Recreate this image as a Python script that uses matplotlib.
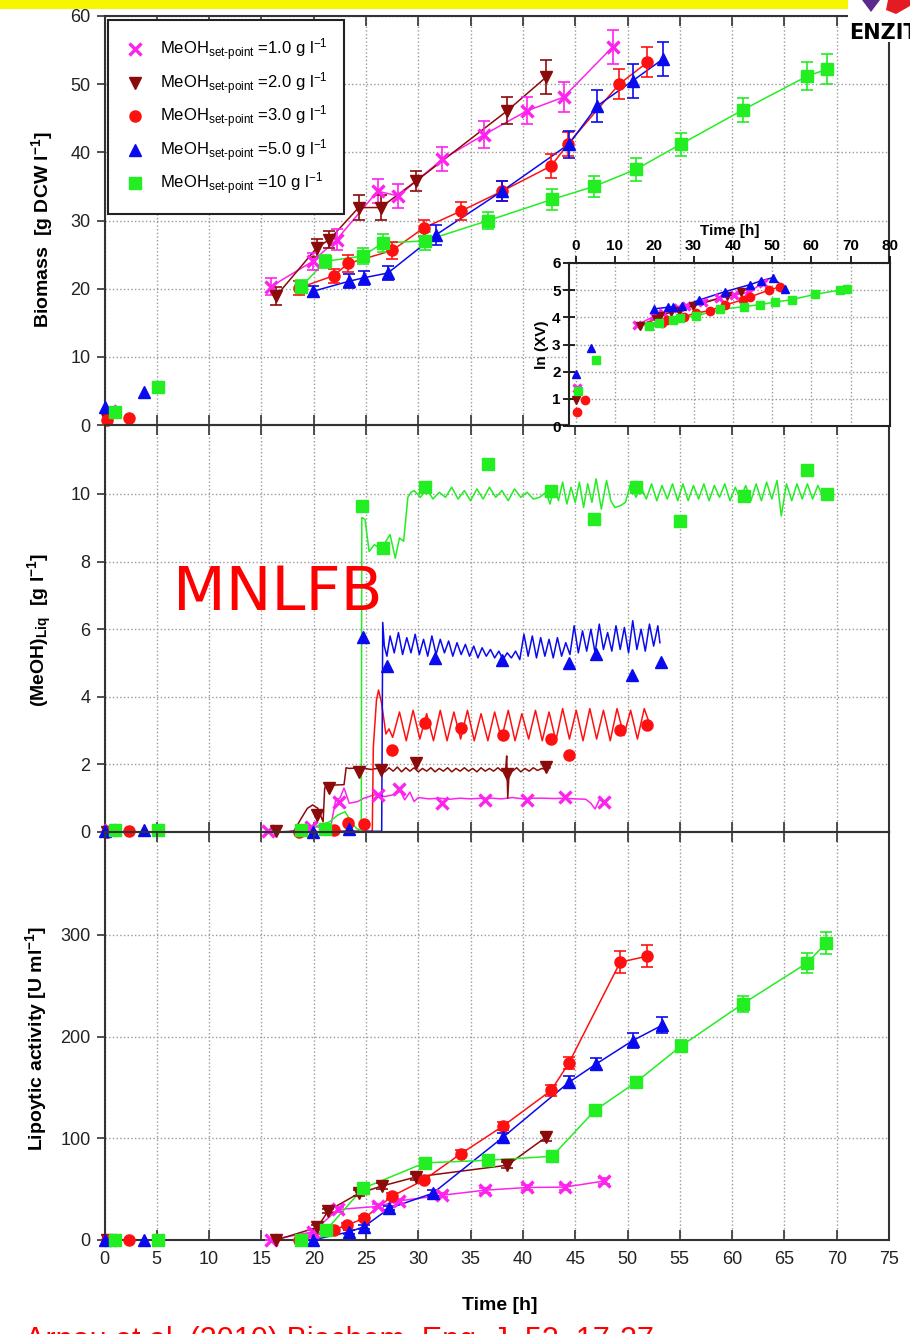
import numpy as np
import matplotlib
matplotlib.use("Agg")
import matplotlib.pyplot as plt
from matplotlib.lines import Line2D
from matplotlib.patches import Rectangle, Polygon

plt.rcParams["font.family"] = ["Liberation Sans", "DejaVu Sans"]
plt.rcParams["mathtext.fontset"] = "custom"
plt.rcParams["mathtext.rm"] = "Liberation Sans"
plt.rcParams["mathtext.it"] = "Liberation Sans:italic"
plt.rcParams["mathtext.bf"] = "Liberation Sans:bold"

W_PX, H_PX = 910, 1334

# series: MeOH set-point 1.0, 2.0, 3.0, 5.0, 10 g/l
setpoints = ["1.0", "2.0", "3.0", "5.0", "10"]
colors = ["#ff22ee", "#8b0a0a", "#ff1010", "#0a0aee", "#22ee22"]
markers = ["x", "v", "o", "^", "s"]

# ---- biomass [g DCW/l]
bio_t_1 = [0.5, 15.9, 19.9, 22.2, 26.1, 28.1, 32.3, 36.3, 40.4, 43.9, 48.6]
bio_y_1 = [2.1, 20.3, 24.0, 27.2, 34.3, 33.6, 39.0, 42.6, 46.1, 48.1, 55.5]
bio_e_1 = [0, 1.2, 1.2, 1.5, 1.8, 1.8, 1.8, 2.0, 2.0, 2.2, 2.5]
bio_t_2 = [0.2, 16.4, 20.3, 21.5, 24.3, 26.4, 29.8, 38.5, 42.2]
bio_y_2 = [0.9, 18.9, 26.0, 27.2, 31.9, 31.9, 35.8, 46.1, 51.0]
bio_e_2 = [0, 1.3, 1.3, 1.3, 1.8, 1.8, 1.5, 2.0, 2.5]
bio_t_3 = [0.2, 2.3, 18.6, 21.9, 23.3, 27.5, 30.5, 34.1, 38.0, 42.7, 44.3, 49.2, 51.9]
bio_y_3 = [0.75, 1.1, 20.1, 21.9, 23.7, 25.6, 28.9, 31.4, 34.3, 38.0, 41.2, 50.0, 53.2]
bio_e_3 = [0, 0, 1.0, 1.0, 1.2, 1.2, 1.2, 1.3, 1.5, 1.8, 1.8, 2.2, 2.2]
bio_t_4 = [0.0, 3.8, 19.9, 23.4, 24.8, 27.1, 31.7, 38.0, 44.4, 47.1, 50.5, 53.4]
bio_y_4 = [2.7, 4.9, 19.6, 21.1, 21.6, 22.3, 27.9, 34.3, 41.2, 46.8, 50.5, 53.7]
bio_e_4 = [0, 0, 0.8, 1.0, 1.0, 1.0, 1.5, 1.5, 2.0, 2.3, 2.5, 2.5]
bio_t_5 = [1.0, 5.1, 18.8, 21.1, 24.7, 26.6, 30.6, 36.7, 42.8, 46.8, 50.8, 55.1, 61.0, 67.2, 69.1]
bio_y_5 = [1.9, 5.6, 20.3, 24.0, 24.8, 26.7, 27.0, 30.0, 33.1, 35.0, 37.5, 41.2, 46.2, 51.2, 52.2]
bio_e_5 = [0, 0, 1.0, 1.0, 1.2, 1.3, 1.3, 1.3, 1.5, 1.5, 1.7, 1.7, 1.8, 2.0, 2.2]

# ---- ln(XV) inset
ln_t_1 = [0.3, 15.7, 20.0, 22.3, 26.1, 28.2, 32.3, 36.4, 40.4, 44.0, 47.8]
ln_y_1 = [1.4, 3.73, 4.04, 4.15, 4.35, 4.4, 4.55, 4.7, 4.82, 4.92, 5.28]
ln_t_2 = [0.2, 16.4, 20.4, 21.5, 24.3, 26.4, 29.8, 38.5, 42.2]
ln_y_2 = [0.96, 3.68, 3.95, 4.05, 4.2, 4.25, 4.42, 4.78, 4.92]
ln_t_3 = [0.3, 2.4, 18.6, 21.9, 23.3, 27.5, 30.5, 34.1, 38.0, 42.7, 44.3, 49.2, 51.9]
ln_y_3 = [0.5, 0.96, 3.7, 3.8, 3.9, 4.02, 4.15, 4.25, 4.45, 4.65, 4.75, 5.0, 5.12]
ln_t_4 = [0.0, 4.0, 19.9, 23.4, 24.8, 27.1, 31.5, 38.1, 44.3, 47.1, 50.2, 53.3]
ln_y_4 = [1.9, 2.86, 4.31, 4.37, 4.38, 4.4, 4.64, 4.95, 5.2, 5.34, 5.46, 5.06]
ln_t_5 = [0.5, 5.2, 18.7, 21.1, 24.7, 26.6, 30.6, 36.7, 42.8, 46.9, 50.7, 55.0, 61.0, 67.2, 69.0]
ln_y_5 = [1.3, 2.43, 3.68, 3.8, 3.92, 3.98, 4.05, 4.29, 4.39, 4.47, 4.56, 4.65, 4.85, 5.0, 5.03]

# ---- MeOH in liquid [g/l], off-line samples
me_t_1 = [0.5, 15.6, 19.7, 22.4, 26.1, 28.2, 32.3, 36.4, 40.4, 44.0, 47.8]
me_y_1 = [0.05, 0.04, 0.16, 0.9, 1.09, 1.26, 0.87, 0.95, 0.95, 1.05, 0.9]
me_t_2 = [0.2, 16.4, 20.35, 21.5, 24.3, 26.4, 29.8, 38.5, 42.2]
me_y_2 = [0.0, 0.04, 0.5, 1.29, 1.78, 1.83, 2.03, 1.73, 1.93]
me_t_3 = [0.2, 2.3, 18.6, 21.9, 23.3, 24.8, 27.5, 30.6, 34.1, 38.1, 42.7, 44.4, 49.3, 51.9]
me_y_3 = [0.0, 0.02, 0.0, 0.05, 0.26, 0.24, 2.43, 3.23, 3.09, 2.87, 2.74, 2.28, 3.03, 3.17]
me_t_4 = [0.0, 3.8, 19.9, 23.4, 24.7, 27.05, 31.6, 38.0, 44.4, 47.0, 50.4, 53.2]
me_y_4 = [0.02, 0.05, 0.0, 0.1, 5.78, 4.91, 5.16, 5.10, 5.0, 5.28, 4.64, 5.03]
me_t_5 = [1.0, 5.1, 18.8, 21.1, 24.65, 26.6, 30.6, 36.7, 42.7, 46.8, 50.8, 55.0, 61.1, 67.2, 69.1]
me_y_5 = [0.05, 0.05, 0.05, 0.1, 9.65, 8.39, 10.2, 10.9, 10.1, 9.26, 10.2, 9.2, 9.94, 10.7, 10.0]

# ---- MeOH on-line signal (t, g/l)
sig_1 = [(15.6, 0.0), (17.5, 0.0), (19.7, 0.15), (21.0, 0.15), (21.6, 0.1), (22.1, 0.95),
         (22.5, 1.0), (22.9, 1.3), (23.4, 0.85), (24.2, 0.9), (24.8, 1.0), (25.8, 1.1),
         (26.8, 1.05), (27.6, 1.1), (28.3, 1.2), (28.7, 0.95), (29.2, 1.18), (29.6, 0.9),
         (30.0, 1.02), (31.0, 0.98), (32.0, 1.0), (33.0, 0.97), (34.0, 1.0), (35.0, 0.98),
         (36.0, 1.0), (37.0, 1.0), (38.0, 0.98), (39.0, 1.02), (40.0, 0.98), (41.0, 1.0),
         (42.0, 1.0), (43.0, 0.99), (44.0, 1.0), (45.0, 0.98), (46.0, 0.97), (46.5, 0.85),
         (46.9, 0.68), (47.3, 0.95), (47.8, 0.9)]
sig_2 = [(16.4, 0.0), (18.1, 0.02), (18.8, 0.4), (19.4, 0.7), (19.9, 0.8), (20.4, 0.7),
         (20.9, 0.3), (21.05, 1.3), (21.2, 1.38), (22.9, 1.4), (23.1, 1.9), (23.4, 1.88),
         (24.5, 1.9), (25.5, 1.85), (26.4, 1.9), (26.8, 1.78), (27.2, 1.9), (27.6, 1.8),
         (28.0, 1.92), (28.4, 1.78), (28.8, 1.9), (29.2, 1.8), (29.6, 1.9), (30.0, 1.78),
         (30.4, 1.88), (30.8, 1.8), (31.2, 1.9), (31.6, 1.78), (32.0, 1.88), (32.4, 1.8),
         (32.8, 1.9), (33.2, 1.78), (33.6, 1.88), (34.0, 1.8), (34.4, 1.9), (34.8, 1.8),
         (35.2, 1.88), (35.6, 1.78), (36.0, 1.9), (36.4, 1.8), (36.8, 1.88), (37.2, 1.8),
         (37.6, 1.9), (38.0, 1.8), (38.35, 1.85), (38.45, 2.25), (38.55, 1.0), (38.7, 1.85),
         (39.0, 1.8), (39.4, 1.9), (39.8, 1.78), (40.2, 1.88), (40.6, 1.8), (41.0, 1.9),
         (41.4, 1.82), (41.8, 1.88), (42.2, 1.85), (42.6, 1.9)]
sig_3 = [(21.9, 0.02), (23.3, 0.02), (24.8, 0.02), (25.6, 0.02), (25.7, 2.5), (26.0, 3.9),
         (26.2, 4.2), (26.5, 3.8), (26.9, 2.9), (27.2, 3.05), (27.55, 2.8), (28.2, 3.55),
         (28.85, 2.7), (29.5, 3.6), (30.15, 2.75), (30.8, 3.5), (31.45, 2.7), (32.1, 3.6),
         (32.75, 2.7), (33.4, 3.55), (34.05, 2.75), (34.7, 3.6), (35.35, 2.7), (36.0, 3.5),
         (36.65, 2.7), (37.3, 3.55), (37.95, 2.75), (38.6, 3.6), (39.25, 2.7), (39.9, 3.5),
         (40.55, 2.75), (41.2, 3.6), (41.85, 2.7), (42.5, 3.55), (43.15, 2.7), (43.8, 3.65),
         (44.45, 2.75), (45.1, 3.6), (45.75, 2.7), (46.4, 3.65), (47.05, 2.75), (47.7, 3.6),
         (48.35, 2.7), (49.0, 3.65), (49.65, 2.85), (50.3, 3.6), (50.95, 2.75), (51.6, 3.65),
         (52.0, 3.3)]
sig_4 = [(19.9, 0.0), (23.4, 0.02), (24.8, 0.02), (26.5, 0.02), (26.6, 6.2), (26.75, 5.5),
         (27.0, 5.2), (27.3, 5.8), (27.7, 5.3), (28.1, 5.9), (28.5, 5.25), (28.9, 5.75),
         (29.3, 5.3), (29.7, 5.85), (30.1, 5.25), (30.5, 5.7), (30.9, 5.2), (31.3, 5.8),
         (31.7, 5.25), (32.1, 5.7), (32.5, 5.3), (32.9, 5.65), (33.3, 5.2), (33.7, 5.6),
         (34.1, 5.25), (34.5, 5.55), (34.9, 5.2), (35.3, 5.5), (35.7, 5.15), (36.1, 5.45),
         (36.5, 5.2), (36.9, 5.4), (37.3, 5.15), (37.7, 5.35), (38.1, 5.1), (38.5, 5.3),
         (38.9, 5.15), (39.3, 5.35), (39.7, 5.1), (40.1, 5.85), (40.5, 5.2), (40.9, 5.8),
         (41.3, 5.15), (41.7, 5.75), (42.1, 5.2), (42.5, 5.7), (42.9, 5.15), (43.3, 5.75),
         (43.7, 5.2), (44.1, 5.6), (44.5, 5.25), (44.9, 6.1), (45.3, 5.3), (45.7, 5.95),
         (46.1, 5.35), (46.5, 6.0), (46.9, 5.3), (47.3, 6.15), (47.7, 5.4), (48.1, 5.9),
         (48.5, 5.35), (48.9, 6.1), (49.3, 5.4), (49.7, 6.05), (50.1, 5.3), (50.5, 6.25),
         (50.9, 5.4), (51.3, 6.0), (51.7, 5.35), (52.1, 6.15), (52.5, 5.5), (52.9, 6.1),
         (53.1, 5.6)]
sig_5 = [(18.5, 0.05), (19.5, 0.1), (20.5, 0.2), (21.5, 0.3), (22.3, 0.5), (23.0, 0.6),
         (23.6, 0.3), (24.1, 0.1), (24.55, 0.05), (24.6, 9.3), (24.9, 9.25), (25.3, 8.3),
         (25.8, 8.5), (26.3, 8.4), (26.8, 8.55), (27.3, 8.8), (27.8, 8.1), (28.2, 8.7),
         (28.6, 8.6), (29.0, 9.9), (29.3, 10.05), (29.6, 10.1), (30.2, 9.9), (30.8, 10.15),
         (31.4, 9.85), (32.0, 10.05), (32.6, 9.9), (33.2, 10.2), (33.8, 9.85), (34.4, 10.1),
         (35.0, 9.8), (35.6, 10.15), (36.2, 9.85), (36.8, 10.2), (37.4, 9.9), (38.0, 10.1),
         (38.6, 9.8), (39.2, 10.15), (39.8, 9.9), (40.4, 10.05), (41.0, 9.85), (41.6, 9.9),
         (42.2, 10.05), (42.6, 9.7), (43.0, 10.25), (43.4, 9.8), (43.8, 10.35), (44.2, 9.7),
         (44.6, 10.2), (45.0, 9.75), (45.4, 10.35), (45.8, 9.6), (46.2, 10.3), (46.6, 9.75),
         (47.0, 10.45), (47.5, 9.55), (48.0, 10.4), (48.4, 9.8), (48.8, 9.6), (49.3, 9.65),
         (49.8, 9.75), (50.3, 10.3), (50.8, 9.9), (51.3, 10.2), (51.8, 9.85), (52.3, 10.3),
         (52.8, 9.8), (53.3, 10.25), (53.8, 9.85), (54.3, 10.3), (54.8, 9.8), (55.3, 10.3),
         (55.8, 9.8), (56.3, 10.25), (56.8, 9.85), (57.3, 10.3), (57.8, 9.8), (58.3, 10.25),
         (58.8, 9.9), (59.3, 10.3), (59.8, 9.8), (60.3, 10.2), (60.8, 9.85), (61.3, 10.25),
         (61.8, 9.8), (62.3, 10.3), (62.8, 9.8), (63.3, 10.35), (63.8, 9.85), (64.3, 10.4),
         (64.7, 9.35), (65.2, 10.3), (65.7, 9.8), (66.2, 10.3), (66.7, 9.85), (67.2, 10.3),
         (67.7, 9.85), (68.2, 10.25), (68.7, 9.9), (69.3, 10.1)]

# ---- lipolytic activity [U/ml]
lip_t_1 = [0.5, 15.9, 19.9, 22.3, 26.1, 28.2, 32.3, 36.4, 40.4, 44.0, 47.8]
lip_y_1 = [0, 0, 8, 30, 33, 38.5, 44, 49, 51.6, 52, 58]
lip_e_1 = [0, 0, 2, 2, 2, 2, 2, 2.5, 2.5, 2.5, 3]
lip_t_2 = [0.2, 16.4, 20.35, 21.4, 24.3, 26.5, 29.8, 38.5, 42.2]
lip_y_2 = [0, 0, 12.4, 28.8, 45.8, 53, 62, 73.5, 101]
lip_e_2 = [0, 0, 2, 2, 3, 3, 3, 3, 4]
lip_t_3 = [0.2, 2.3, 18.6, 21.9, 23.2, 24.8, 27.5, 30.5, 34.1, 38.1, 42.7, 44.4, 49.3, 51.9]
lip_y_3 = [0, 0, 0, 9.8, 14.7, 21.2, 43.1, 58.8, 85, 112, 147, 174, 273, 279]
lip_e_3 = [0, 0, 0, 2, 2, 2, 3, 3, 3, 4, 5, 6, 11, 11]
lip_t_4 = [0.0, 3.8, 19.9, 23.4, 24.8, 27.2, 31.4, 38.1, 44.4, 47.0, 50.5, 53.3]
lip_y_4 = [0, 0, 0, 8, 13, 31, 46, 101, 155, 173, 196, 211]
lip_e_4 = [0, 0, 0, 2, 2, 2, 3, 4, 6, 6, 7, 8]
lip_t_5 = [1.0, 5.1, 18.8, 21.2, 24.7, 30.6, 36.7, 42.8, 46.9, 50.8, 55.1, 61.0, 67.2, 69.0]
lip_y_5 = [0, 0, 0, 9.8, 50.7, 75.8, 78.4, 82.3, 127.5, 155, 190.5, 232, 272.5, 292]
lip_e_5 = [0, 0, 0, 2, 3, 3, 3, 3, 4, 4, 6, 8, 10, 11]

bio = [(bio_t_1, bio_y_1, bio_e_1), (bio_t_2, bio_y_2, bio_e_2), (bio_t_3, bio_y_3, bio_e_3),
       (bio_t_4, bio_y_4, bio_e_4), (bio_t_5, bio_y_5, bio_e_5)]
lnxv = [(ln_t_1, ln_y_1), (ln_t_2, ln_y_2), (ln_t_3, ln_y_3), (ln_t_4, ln_y_4), (ln_t_5, ln_y_5)]
meoh = [(me_t_1, me_y_1), (me_t_2, me_y_2), (me_t_3, me_y_3), (me_t_4, me_y_4), (me_t_5, me_y_5)]
sigs = [sig_1, sig_2, sig_3, sig_4, sig_5]
lip = [(lip_t_1, lip_y_1, lip_e_1), (lip_t_2, lip_y_2, lip_e_2), (lip_t_3, lip_y_3, lip_e_3),
       (lip_t_4, lip_y_4, lip_e_4), (lip_t_5, lip_y_5, lip_e_5)]


def fx(px):
    return px / W_PX


def fy(py):
    return 1 - py / H_PX


def mew_of(m):
    return 2.4 if m == "x" else 1.0


def draw_points(ax, t, y, err, color, marker, ms=8, line=True):
    t = np.asarray(t, float)
    y = np.asarray(y, float)
    late = t >= 15
    if line:
        ax.plot(t[late], y[late], color=color, lw=1.1, zorder=3, clip_on=False)
    if err is not None:
        ax.errorbar(t[late], y[late], yerr=np.asarray(err, float)[late], fmt="none",
                    ecolor=color, elinewidth=1.2, capsize=4, capthick=1.2, zorder=4)
    ax.plot(t, y, ls="none", marker=marker, color=color, ms=ms, mew=mew_of(marker),
            clip_on=False, zorder=5)


def style_axis(ax, ylim, yticks):
    ax.set_facecolor("none")
    ax.set_xlim(0, 75)
    ax.set_ylim(*ylim)
    ax.set_xticks(np.arange(0, 76, 5))
    ax.set_yticks(yticks)
    ax.grid(True, ls=":", color="#9a9a9a", lw=1.0)
    ax.set_axisbelow(True)
    for s in ax.spines.values():
        s.set_color("#333333")
        s.set_linewidth(1.5)
    ax.tick_params(axis="x", direction="in", top=True, bottom=True, length=7, width=1.2,
                   labelbottom=False, colors="#333333")
    ax.tick_params(axis="y", direction="out", left=True, right=False, length=6, width=1.2,
                   labelsize=13, colors="#333333", labelcolor="#222222", pad=4)


fig = plt.figure(figsize=(9.1, 13.34), dpi=100)
L, R = 104.5, 889
ax1 = fig.add_axes([fx(L), fy(425), fx(R) - fx(L), (425 - 16) / H_PX])
ax2 = fig.add_axes([fx(L), fy(832), fx(R) - fx(L), (832 - 425) / H_PX])
ax3 = fig.add_axes([fx(L), fy(1240), fx(R) - fx(L), (1240 - 832) / H_PX])

style_axis(ax1, (0, 60), np.arange(0, 61, 10))
style_axis(ax2, (0, 12.04), np.arange(0, 11, 2))
style_axis(ax3, (0, 401), [0, 100, 200, 300])
ax3.tick_params(axis="x", labelbottom=True, labelsize=13, labelcolor="#222222", pad=8)

for i in range(5):
    t, y, e = bio[i]
    draw_points(ax1, t, y, e, colors[i], markers[i])
    st, sy = np.array(sigs[i]).T
    ax2.plot(st, sy, color=colors[i], lw=1.1, zorder=3)
    t, y = meoh[i]
    draw_points(ax2, t, y, None, colors[i], markers[i], line=False)
    t, y, e = lip[i]
    draw_points(ax3, t, y, e, colors[i], markers[i])

# legend
handles = [Line2D([], [], ls="none", marker=markers[i], color=colors[i], ms=8,
                  mew=mew_of(markers[i])) for i in range(5)]
labels = [r"MeOH$_{\text{set-point}}$ =" + sp + r" g l$^{-1}$" for sp in setpoints]
leg = ax1.legend(handles, labels, loc="upper left", bbox_to_anchor=(fx(108), fy(20)),
                 bbox_transform=fig.transFigure, borderaxespad=0, fontsize=12,
                 handlelength=1.2, handletextpad=0.9, labelspacing=0.42, borderpad=1.0,
                 fancybox=False, framealpha=1, edgecolor="#222222")
leg.get_frame().set_linewidth(1.5)
leg.set_zorder(20)

# inset ln(XV)
axi = fig.add_axes([fx(569), fy(426), fx(890) - fx(569), (426 - 263) / H_PX])
axi.set_zorder(6)
axi.set_facecolor("white")
axi.set_xlim(-1.7, 80)
axi.set_ylim(0, 6)
axi.set_xticks(np.arange(0, 81, 10))
axi.set_yticks(np.arange(0, 7, 1))
axi.grid(True, ls=":", color="#9a9a9a", lw=1.0)
axi.set_axisbelow(True)
for s in axi.spines.values():
    s.set_color("#222222")
    s.set_linewidth(1.5)
axi.xaxis.tick_top()
axi.xaxis.set_label_position("top")
axi.tick_params(axis="x", direction="out", length=5, width=1.2, labelsize=11, pad=2)
axi.tick_params(axis="y", direction="inout", length=8, width=1.2, labelsize=11, pad=2)
for lab in axi.get_xticklabels() + axi.get_yticklabels():
    lab.set_fontweight("bold")
axi.set_xlabel("Time [h]", fontsize=11, fontweight="bold", labelpad=3)
axi.set_ylabel("ln (XV)", fontsize=11, fontweight="bold", labelpad=2)
for i in range(5):
    t, y = lnxv[i]
    draw_points(axi, t, y, None, colors[i], markers[i], ms=6)

# axis titles
fig.text(fx(42), fy(230), r"Biomass  [g DCW l$^{\mathbf{-1}}$]", rotation=90,
         fontsize=14, fontweight="bold", ha="center", va="center")
fig.text(fx(40), fy(630), r"(MeOH)$_{\mathbf{Liq}}$  [g l$^{\mathbf{-1}}$]", rotation=90,
         fontsize=14, fontweight="bold", ha="center", va="center")
fig.text(fx(36), fy(1038), r"Lipoytic activity [U ml$^{\mathbf{-1}}$]", rotation=90,
         fontsize=14, fontweight="bold", ha="center", va="center")
fig.text(fx(500), fy(1306), "Time [h]", fontsize=14, fontweight="bold",
         ha="center", va="center")

# slide overlays
fig.text(fx(278), fy(594), "MNLFB", color="red", fontsize=44, ha="center", va="center",
         family="DejaVu Sans")
fig.text(fx(25), fy(1326), "Arnau et al. (2010) Biochem. Eng. J. 52, 17-27", color="red",
         fontsize=22, ha="left", va="top")
fig.add_artist(Rectangle((0, fy(9)), fx(848), 9 / H_PX, transform=fig.transFigure,
                         facecolor="#f6f600", edgecolor="none", zorder=30))
fig.add_artist(Rectangle((fx(848), fy(42)), 1 - fx(848), 42 / H_PX,
                         transform=fig.transFigure, facecolor="white", edgecolor="none",
                         zorder=30))
fig.add_artist(Polygon([(fx(862), 1), (fx(880), 1), (fx(871), fy(12))],
                       transform=fig.transFigure, facecolor="#5b2a8c", edgecolor="none",
                       zorder=31))
fig.add_artist(Polygon([(fx(888), 1), (fx(910), 1), (fx(910), fy(6)), (fx(896), fy(14)),
                        (fx(886), fy(10))],
                       transform=fig.transFigure, facecolor="#e31b23", edgecolor="none",
                       zorder=31))
fig.text(fx(849), fy(33), "ENZIT", fontsize=15, fontweight="bold", ha="left", va="center",
         family="DejaVu Sans", zorder=32)

fig.savefig("out.png", dpi=100)
